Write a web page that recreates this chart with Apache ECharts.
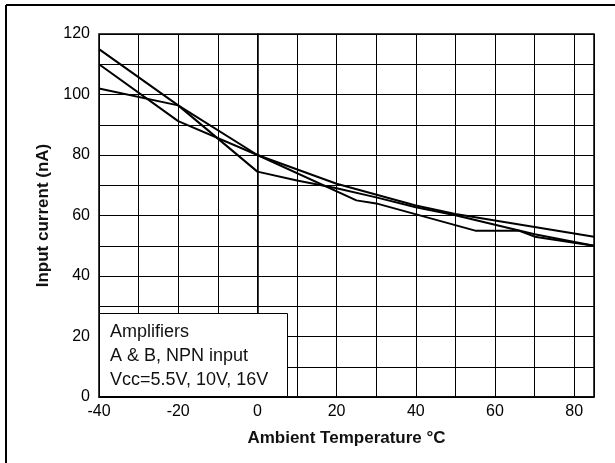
<!DOCTYPE html>
<html>
<head>
<meta charset="utf-8">
<script src="https://cdn.jsdelivr.net/npm/echarts@6/dist/echarts.min.js"></script>
<style>
  html, body { margin: 0; padding: 0; background: #fff; }
  #chart { width: 615px; height: 463px; }
</style>
</head>
<body>
<div id="chart"></div>
<script>
// three supply voltages, all drawn as plain black lines
const tempA = [-40, -20, 0, 25, 30, 55, 66, 70, 85]
const currentA = [115, 96.4, 80, 65, 64, 55, 55, 53, 50]
const tempB = [-40, -20, 0, 20, 40, 50, 85]
const currentB = [110, 91.2, 80, 70.5, 63.3, 60.5, 53]
const tempC = [-40, -20, 0, 10, 20, 30, 40, 50, 70, 85]
const currentC = [102, 96.4, 74.5, 71.6, 69, 66, 62.7, 60.1, 53.8, 50]

const xTickLabels = [-40, -20, 0, 20, 40, 60, 80]
const yTickLabels = [0, 20, 40, 60, 80, 100, 120]
const noteLines = ['Amplifiers', 'A & B, NPN input', 'Vcc=5.5V, 10V, 16V']

const pairs = (xs, ys) => xs.map((x, i) => [x, ys[i]])

const chart = echarts.init(document.getElementById('chart'))

const lineSeries = (data) => ({
    type: 'line',
    data: data,
    symbol: 'none',
    lineStyle: { color: '#000', width: 2 },
    z: 3,
})

const option = {
    animation: false,
    textStyle: { fontFamily: 'Liberation Sans, Arial, sans-serif' },
    grid: {
        left: 99,
        right: 21,
        top: 34,
        bottom: 66,
        show: true,
        borderColor: '#000',
        borderWidth: 1.5,
    },
    xAxis: {
        type: 'value',
        min: -40,
        max: 85,
        interval: 10,
        name: 'Ambient Temperature °C',
        nameLocation: 'middle',
        nameGap: 33,
        nameTextStyle: { color: '#111', fontSize: 17, fontWeight: 'bold' },
        axisLine: { show: true, lineStyle: { color: '#000', width: 1.5 } },
        axisTick: { show: true, inside: true, length: 4, lineStyle: { color: '#000' } },
        axisLabel: {
            color: '#000',
            fontSize: 16,
            margin: 7,
            showMaxLabel: false,
            formatter: (v) => (xTickLabels.includes(v) ? String(v) : ''),
        },
        splitLine: { show: true, lineStyle: { color: '#000', width: 1 } },
    },
    yAxis: {
        type: 'value',
        min: 0,
        max: 120,
        interval: 10,
        name: 'Input current (nA)',
        nameLocation: 'middle',
        nameGap: 47,
        nameTextStyle: { color: '#111', fontSize: 17, fontWeight: 'bold' },
        axisLine: { show: true, lineStyle: { color: '#000', width: 1.5 } },
        axisTick: { show: false },
        axisLabel: {
            color: '#000',
            fontSize: 16,
            margin: 9,
            formatter: (v) => (yTickLabels.includes(v) ? String(v) : ''),
        },
        splitLine: { show: true, lineStyle: { color: '#000', width: 1 } },
    },
    graphic: [
        // frame of the figure, only top and left edges are visible
        { type: 'line', shape: { x1: 6, y1: 5, x2: 615, y2: 5 }, style: { stroke: '#000', lineWidth: 2 } },
        { type: 'line', shape: { x1: 6, y1: 5, x2: 6, y2: 463 }, style: { stroke: '#000', lineWidth: 2 } },
        {
            type: 'rect',
            z: 100,
            shape: { x: 99.5, y: 313.5, width: 188, height: 83 },
            style: { fill: '#fff', stroke: '#000', lineWidth: 1 },
        },
        {
            type: 'text',
            z: 101,
            x: 110,
            y: 320,
            style: {
                text: noteLines.join('\n'),
                fill: '#111',
                font: '18px Liberation Sans, Arial, sans-serif',
                lineHeight: 24,
            },
        },
    ],
    series: [
        lineSeries(pairs(tempA, currentA)),
        lineSeries(pairs(tempB, currentB)),
        lineSeries(pairs(tempC, currentC)),
    ],
}

chart.setOption(option)
</script>
</body>
</html>
